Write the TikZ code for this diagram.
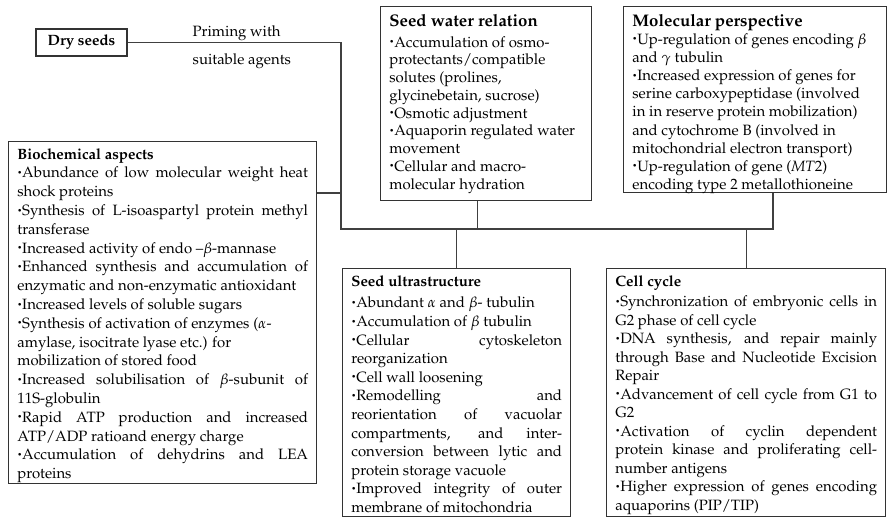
\documentclass[tikz,border=0pt]{standalone}
\usepackage[T1]{fontenc}
\usepackage{mathpazo}
\usetikzlibrary{calc}
\newcommand{\bodyfont}{\fontsize{11.2}{13.4}\selectfont}
\newcommand{\bigtitle}[1]{{\fontsize{12.6}{13}\selectfont\bfseries #1}}
\newcommand{\bul}{\raisebox{.35ex}{\fontsize{6}{6}\selectfont\textbullet}}
\newcommand{\jl}[1]{\makebox[\linewidth][s]{#1}}
\newcommand{\rl}[1]{\mbox{#1}}
\newcommand{\panelbox}[4]{\begin{minipage}[c][#2][t]{#1}\fontsize{11.2}{#3}\selectfont #4\end{minipage}}

\begin{document}
\begin{tikzpicture}[x=0.75pt,y=-0.75pt,
		panel/.style={draw=black!80, line width=1.1pt, inner xsep=6.5pt, inner ysep=5.5pt, anchor=north west, font=\bodyfont},
		link/.style={draw=black!75, line width=1pt}]
		%%%%% START %%%%%
		\useasboundingbox (0,0) rectangle (887,517);
		
		\node[draw=black!80, line width=1.1pt, minimum width=68.25pt, minimum height=20.25pt, inner sep=0pt, font=\bodyfont\bfseries] (dry) at (81.5,42.5) {Dry seeds};
		\node[anchor=west, align=left, font=\bodyfont] (prime) at (188,47) {Priming with\\[7.6pt]suitable agents};
		
		\node[panel] (water) at (380,6) {\panelbox{145.25pt}{134.5pt}{13.3pt}{%
			\bigtitle{Seed water relation}\\[2.4pt]
			\rl{\bul Accumulation of osmo-}\\
			\rl{protectants/compatible}\\
			\rl{solutes (prolines,}\\
			\rl{glycinebetain, sucrose)}\\
			\rl{\bul Osmotic adjustment}\\
			\rl{\bul Aquaporin regulated water}\\
			\rl{movement}\\
			\rl{\bul Cellular and macro-}\\
			\rl{molecular hydration}}};
		
		\node[panel] (mol) at (623,6) {\panelbox{184.25pt}{128.5pt}{13.6pt}{%
			\bigtitle{Molecular perspective}\\
			\rl{\bul Up-regulation of genes encoding $\beta$}\\
			\rl{and $\gamma$ tubulin}\\
			\rl{\bul Increased expression of genes for}\\
			\rl{serine carboxypeptidase (involved}\\
			\rl{in in reserve protein mobilization)}\\
			\rl{and cytochrome B (involved in}\\
			\rl{mitochondrial electron transport)}\\
			\rl{\bul Up-regulation of gene (\textit{MT}2)}\\
			\rl{encoding type 2 metallothioneine}}};
		
		\node[panel] (bio) at (8,141) {\panelbox{218pt}{245.5pt}{14.1pt}{%
			\textbf{Biochemical aspects}\\[-0.6pt]
			\jl{\bul Abundance of low molecular weight heat}\\
			shock proteins\\
			\jl{\bul Synthesis of L-isoaspartyl protein methyl}\\
			transferase\\
			\rl{\bul Increased activity of endo --$\beta$-mannase}\\
			\jl{\bul Enhanced synthesis and accumulation of}\\
			\rl{enzymatic and non-enzymatic antioxidant}\\
			\rl{\bul Increased levels of soluble sugars}\\
			\rl{\bul Synthesis of activation of enzymes ($\alpha$-}\\
			\rl{amylase, isocitrate lyase etc.) for}\\
			\rl{mobilization of stored food}\\
			\jl{\bul Increased solubilisation of $\beta$-subunit of}\\
			11S-globulin\\
			\jl{\bul Rapid ATP production and increased}\\
			\rl{ATP/ADP ratioand energy charge}\\
			\jl{\bul Accumulation of dehydrins and LEA}\\
			proteins}};
		
		\node[panel] (ultra) at (342,268) {\panelbox{158pt}{175pt}{13.95pt}{%
			\textbf{Seed ultrastructure}\\[1.8pt]
			\rl{\bul Abundant $\alpha$ and $\beta$- tubulin}\\
			\rl{\bul Accumulation of $\beta$ tubulin}\\
			\jl{\bul Cellular cytoskeleton}\\
			reorganization\\
			\rl{\bul Cell wall loosening}\\
			\jl{\bul Remodelling and}\\
			\jl{reorientation of vacuolar}\\
			\jl{compartments, and inter-}\\
			\jl{conversion between lytic and}\\
			\rl{protein storage vacuole}\\
			\jl{\bul Improved integrity of outer}\\
			\rl{membrane of mitochondria}}};
		
		\node[panel] (cell) at (606,268) {\panelbox{196.25pt}{175pt}{13.85pt}{%
			\textbf{Cell cycle}\\[1.2pt]
			\jl{\bul Synchronization of embryonic cells in}\\
			\rl{G2 phase of cell cycle}\\
			\jl{\bul DNA synthesis, and repair mainly}\\
			\jl{through Base and Nucleotide Excision}\\
			Repair\\
			\jl{\bul Advancement of cell cycle from G1 to}\\
			G2\\
			\jl{\bul Activation of cyclin dependent}\\
			\jl{protein kinase and proliferating cell-}\\
			\rl{number antigens}\\
			\jl{\bul Higher expression of genes encoding}\\
			\rl{aquaporins (PIP/TIP)}}};
		
		% junctions
		\coordinate (jl) at (341,229);
		\coordinate (jr) at (773,229);
		\coordinate (bj) at ($(bio.north east)+(0,52)$);
		\coordinate (wj) at ($(water.south)+(-9,0)$);
		
		\draw[link] (dry.east) -| (jl) -- (jr) -- (jr |- mol.south);
		\draw[link] (bj) -- (bj -| jl);
		\draw[link] (wj) -- (wj |- jl);
		\draw[link] (ultra.north) -- (ultra.north |- jl);
		\draw[link] (cell.north) -- (cell.north |- jl);
		
		%%%%% END %%%%%
	\end{tikzpicture}
\end{document}
